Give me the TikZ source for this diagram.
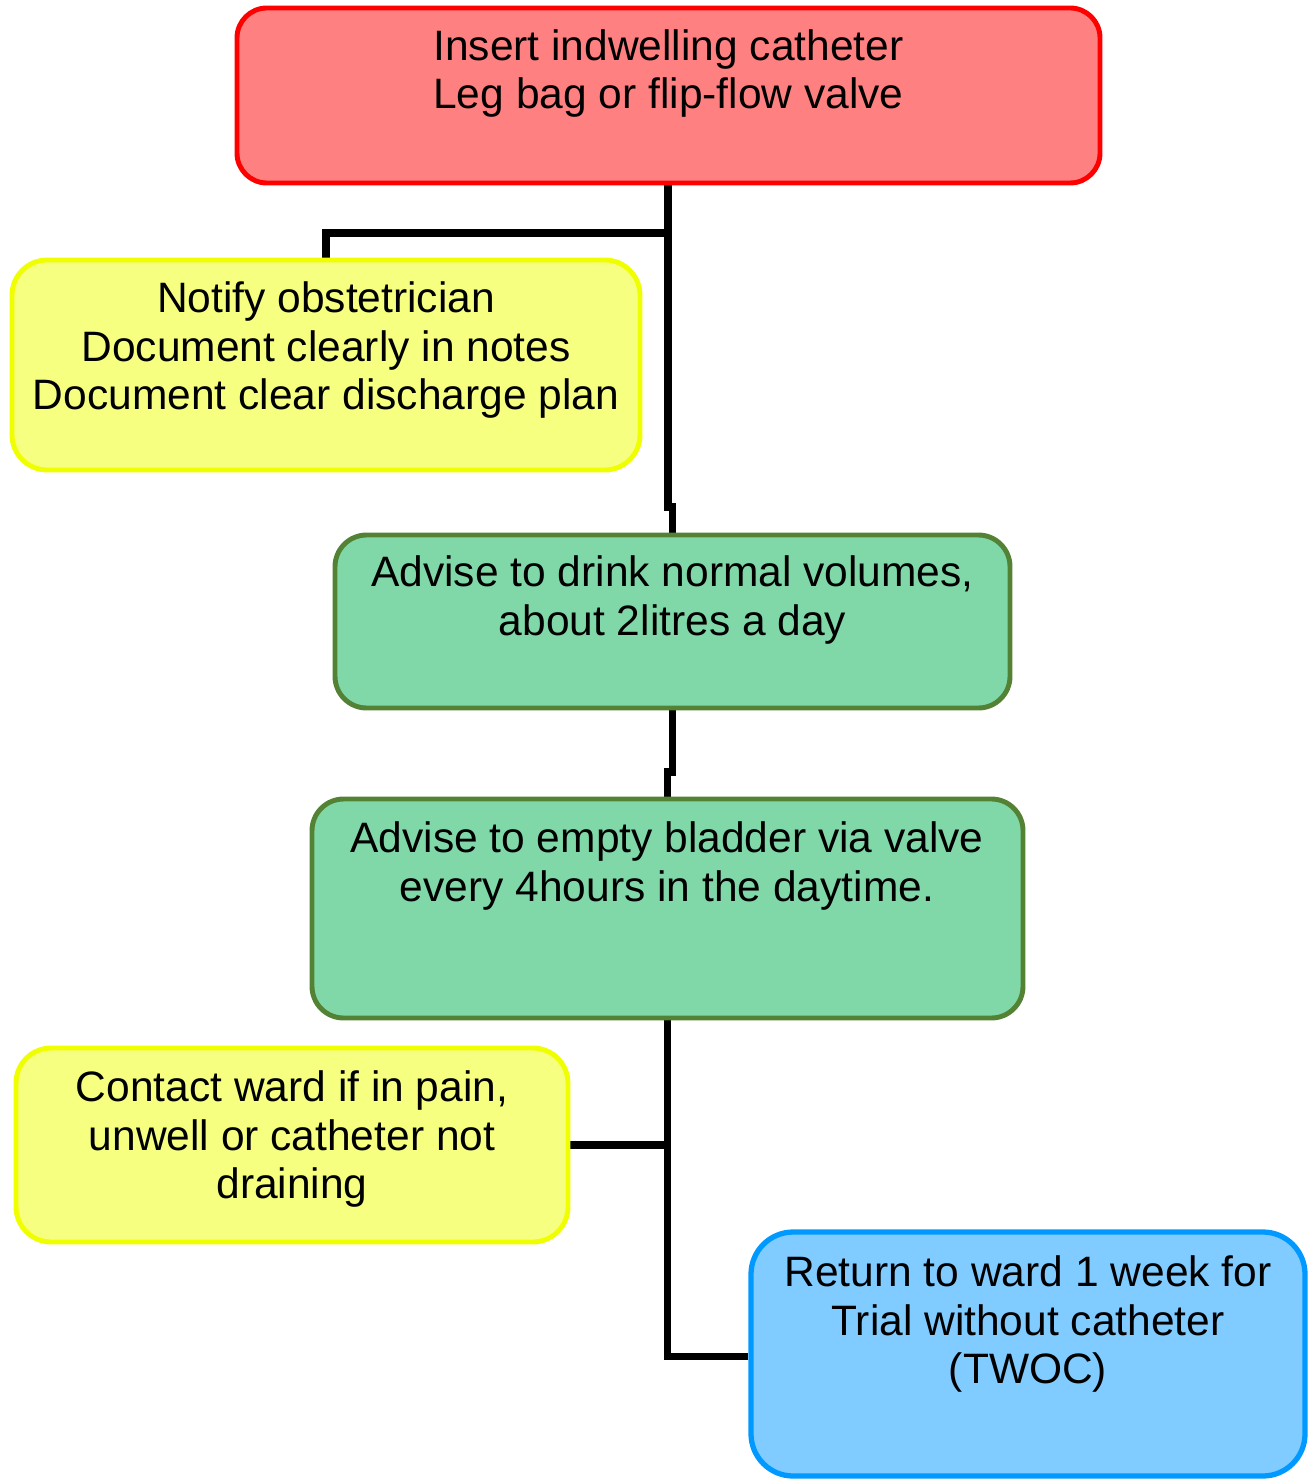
\documentclass[tikz,border=0pt]{standalone}
\usepackage{fontspec}
\setmainfont{Liberation Sans}
\usetikzlibrary{fit,backgrounds}
\definecolor{redfill}{HTML}{FF8080}
\definecolor{redline}{HTML}{FF0000}
\definecolor{yelfill}{HTML}{F6FF80}
\definecolor{yelline}{HTML}{F0FF00}
\definecolor{grnfill}{HTML}{80D8A8}
\definecolor{grnline}{HTML}{548235}
\definecolor{blufill}{HTML}{80CBFF}
\definecolor{bluline}{HTML}{0099FF}
\tikzset{
  box/.style={inner sep=0pt, line width=2.8pt},
  redbox/.style={box, draw=redline, fill=redfill, rounded corners=17pt},
  yelbox/.style={box, draw=yelline, fill=yelfill, rounded corners=20pt},
  grnbox/.style={box, draw=grnline, fill=grnfill, rounded corners=18pt},
  blubox/.style={box, draw=bluline, fill=blufill, line width=3pt, rounded corners=24pt},
  txt/.style={inner sep=0pt, align=center, anchor=north, font=\fontsize{24.2}{27.8}\selectfont},
  conn/.style={draw=black, line width=4pt}
}
\begin{document}
\begin{tikzpicture}[x=0.02cm,y=-0.02cm]
\useasboundingbox (0,0) rectangle (1311,1479);
% boxes
\node[redbox, fit={(237,8)(1100,183)}] (red) {};
\node[yelbox, fit={(12,260)(640,470)}] (yel1) {};
\node[grnbox, fit={(335,535)(1010,708)}] (grn1) {};
\node[grnbox, fit={(312,799)(1023,1018)}] (grn2) {};
\node[yelbox, fit={(16,1048)(568,1242)}] (yel2) {};
\node[blubox, fit={(751,1232)(1305,1476)}] (blu) {};
% texts
\node[txt] (redt) at (668.5,29) {Insert indwelling catheter\\Leg bag or flip-flow valve};
\node[txt] (yel1t) at (326,281) {Notify obstetrician\\Document clearly in notes\\Document clear discharge plan};
\node[txt] (grn1t) at (672.5,555) {Advise to drink normal volumes,\\about 2litres a day};
\node[txt] (grn2t) at (667,821) {Advise to empty bladder via valve\\every 4hours in the daytime.};
\node[txt] (yel2t) at (292,1070) {Contact ward if in pain,\\unwell or catheter not\\draining};
\node[txt] (blut) at (1028,1255) {Return to ward 1 week for\\Trial without catheter\\(TWOC)};
% connector joints
\coordinate (j1) at (668,233);
\coordinate (j2) at (326,233);
\coordinate (j3) at (668,507);
\coordinate (j4) at (672.5,507);
\coordinate (j5) at (672.5,772);
\coordinate (j6) at (667.5,772);
\coordinate (j7) at (667.5,1145);
\coordinate (j8) at (667.5,1356);
\begin{scope}[on background layer]
\draw[conn] (red.south -| j1) -- (j1) -- (j2) -- (yel1.north -| j2);
\draw[conn] (j1) -- (j3) -- (j4) -- (grn1.north -| j4);
\draw[conn] (grn1.south -| j5) -- (j5) -- (j6) -- (grn2.north -| j6);
\draw[conn] (grn2.south -| j7) -- (j7) -- (yel2.east |- j7);
\draw[conn] (j7) -- (j8) -- (blu.west |- j8);
\end{scope}
\end{tikzpicture}
\end{document}
